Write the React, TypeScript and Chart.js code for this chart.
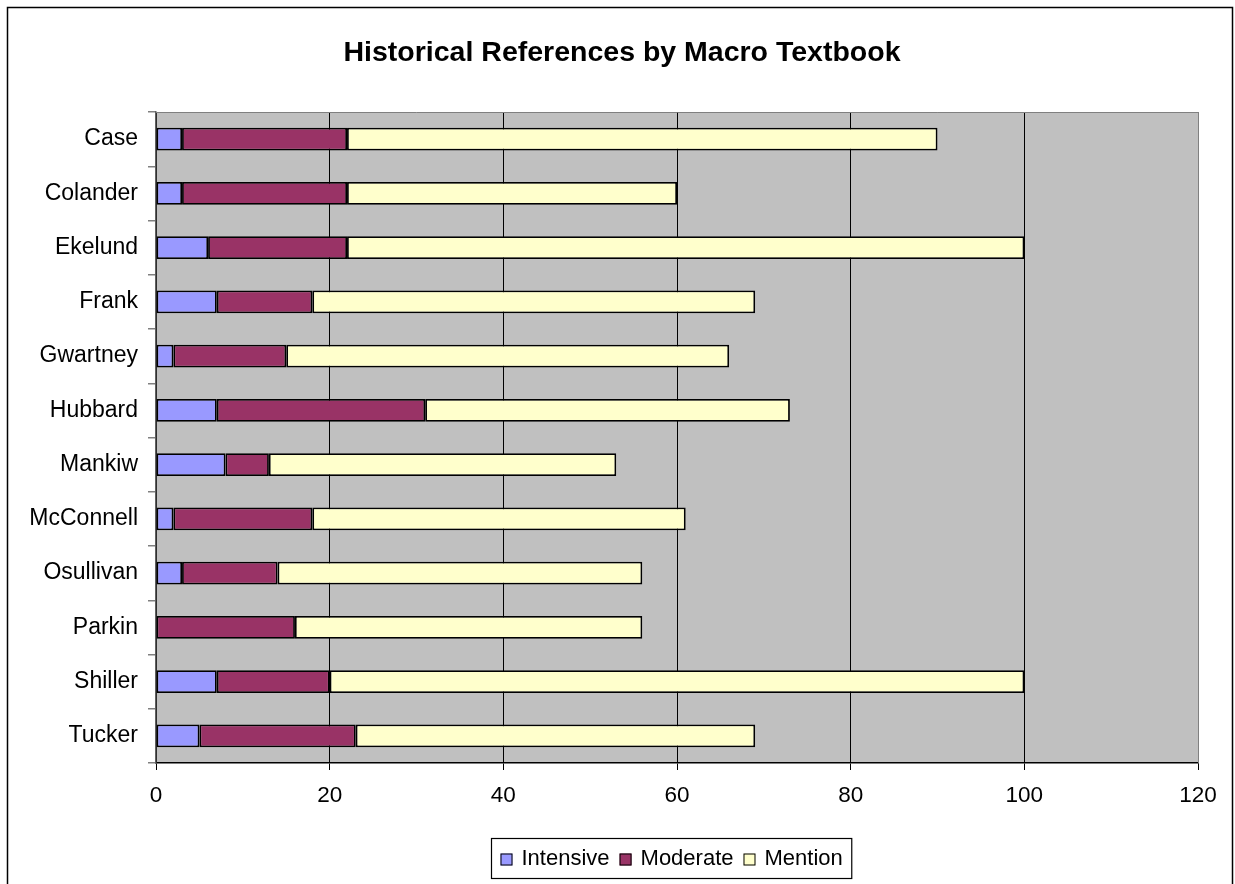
import React, { useEffect, useRef } from "react";
import { Chart, registerables } from "chart.js";

Chart.register(...registerables);

const categories = [
  "Case", "Colander", "Ekelund", "Frank", "Gwartney", "Hubbard",
  "Mankiw", "McConnell", "Osullivan", "Parkin", "Shiller", "Tucker",
];
const intensive = [3, 3, 6, 7, 2, 7, 8, 2, 3, 0, 7, 5];
const moderate = [19, 19, 16, 11, 13, 24, 5, 16, 11, 16, 13, 18];
const mention = [68, 38, 78, 51, 51, 42, 40, 43, 42, 40, 80, 46];
const xTicks = [0, 20, 40, 60, 80, 100, 120];
const titleText = "Historical References by Macro Textbook";

const FONT = "Arial, 'Liberation Sans', sans-serif";

const framePlugin = {
  id: "frame",
  beforeDraw(chart: any) {
    const { ctx, chartArea: a } = chart;
    ctx.save();
    ctx.fillStyle = "#ffffff";
    ctx.fillRect(0, 0, chart.width, chart.height);
    ctx.fillStyle = "#C0C0C0";
    ctx.fillRect(a.left, a.top, a.right - a.left, a.bottom - a.top);
    ctx.restore();
  },
  beforeDatasetsDraw(chart: any) {
    const { ctx, chartArea: a } = chart;
    ctx.save();
    ctx.strokeStyle = "#808080";
    ctx.lineWidth = 1;
    ctx.beginPath();
    ctx.moveTo(a.left, a.top + 0.5);
    ctx.lineTo(a.right + 0.5, a.top + 0.5);
    ctx.lineTo(a.right + 0.5, a.bottom);
    ctx.stroke();
    ctx.restore();
  },
  afterDraw(chart: any) {
    const { ctx } = chart;
    ctx.save();
    // outer border
    ctx.strokeStyle = "#000000";
    ctx.lineWidth = 1.5;
    ctx.strokeRect(7.5, 7.5, 1225, 900);
    // title
    ctx.fillStyle = "#000";
    ctx.font = `bold 28.5px ${FONT}`;
    ctx.textAlign = "center";
    ctx.textBaseline = "middle";
    ctx.fillText(titleText, 622, 53);
    ctx.textAlign = "left";
    // legend
    const items = chart.data.datasets;
    ctx.font = `22px ${FONT}`;
    ctx.textBaseline = "middle";
    const boxSize = 12;
    const gap = 9;
    const itemGap = 10;
    let total = 0;
    const widths = items.map((d: any) => ctx.measureText(d.label).width);
    widths.forEach((w: number, i: number) => {
      total += boxSize + gap + w + (i < widths.length - 1 ? itemGap : 0);
    });
    const padX = 9;
    const boxW = total + padX * 2;
    const cx = 671;
    const left = Math.round(cx - boxW / 2) + 0.5;
    const top = 838.5;
    const h = 40;
    ctx.lineWidth = 1.2;
    ctx.strokeStyle = "#000";
    ctx.strokeRect(left, top, boxW, h);
    let x = left + padX;
    const cy = top + h / 2;
    items.forEach((d: any, i: number) => {
      ctx.fillStyle = d.backgroundColor;
      ctx.fillRect(x, cy - boxSize / 2 + 1, boxSize, boxSize);
      ctx.strokeStyle = "#000";
      ctx.lineWidth = 1;
      ctx.strokeRect(x + 0.5, cy - boxSize / 2 + 1.5, boxSize - 1, boxSize - 1);
      x += boxSize + gap;
      ctx.fillStyle = "#000";
      ctx.fillText(d.label, x, cy);
      x += widths[i] + itemGap;
    });
    ctx.restore();
  },
};

export default function App() {
  const ref = useRef<HTMLCanvasElement | null>(null);
  useEffect(() => {
    if (!ref.current) return;
    const chart = new Chart(ref.current, {
      type: "bar",
      data: {
        labels: categories,
        datasets: [
          { label: "Intensive", data: intensive, backgroundColor: "#9999FF" },
          { label: "Moderate", data: moderate, backgroundColor: "#993366" },
          { label: "Mention", data: mention, backgroundColor: "#FFFFCC" },
        ].map((d) => ({
          ...d,
          borderColor: "#000000",
          borderWidth: 1.8,
          borderSkipped: false,
          barPercentage: 0.42,
          categoryPercentage: 1,
        })),
      },
      options: {
        indexAxis: "y",
        animation: false,
        responsive: false,
        maintainAspectRatio: false,
        layout: { padding: { left: 0, right: 37, top: 112, bottom: 71 } },
        plugins: {
          legend: { display: false },
          tooltip: { enabled: false },
          title: { display: false },
        },
        scales: {
          x: {
            stacked: true,
            min: 0,
            max: 120,
            afterBuildTicks: (s: any) => {
              s.ticks = xTicks.map((v) => ({ value: v }));
            },
            afterFit: (s: any) => {
              s.height = 50;
            },
            ticks: {
              color: "#000",
              font: { family: FONT, size: 22.5 },
              padding: 12,
              maxRotation: 0,
            },
            grid: {
              color: (c: any) => (c.tick && c.tick.value === 120 ? "#808080" : "#000000"),
              lineWidth: 1,
              tickLength: 7,
              tickColor: "#000",
            },
            border: { color: "#000", width: 1.5 },
          },
          y: {
            stacked: true,
            afterFit: (s: any) => {
              s.width = 156;
            },
            ticks: {
              color: "#000",
              font: { family: FONT, size: 23 },
              padding: 10,
            },
            grid: {
              offset: true,
              drawOnChartArea: false,
              tickLength: 8,
              tickColor: "#808080",
              lineWidth: 1.5,
            },
            border: { color: "#606060", width: 1.5 },
          },
        },
      },
      plugins: [framePlugin],
    } as any);
    return () => chart.destroy();
  }, []);
  return (
    <div style={{ position: "absolute", left: 0, top: 0, width: 1235, height: 884 }}>
      <canvas ref={ref} width={1235} height={884} style={{ display: "block" }} />
    </div>
  );
}
